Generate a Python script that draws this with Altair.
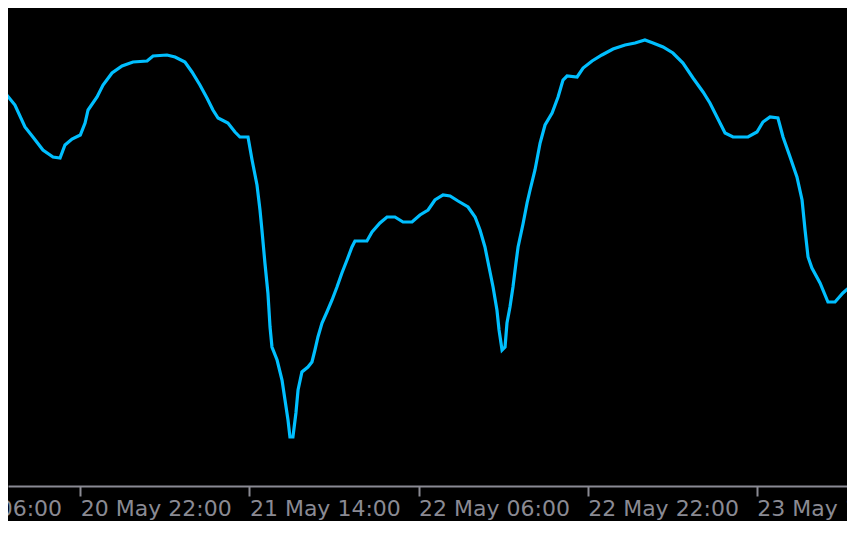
import altair as alt
import pandas as pd

# Timestamps (UTC) of the cyan line's points
times = [
    "2024-05-20T14:24", "2024-05-20T14:58", "2024-05-20T15:49", "2024-05-20T16:46", "2024-05-20T17:31",
    "2024-05-20T18:28", "2024-05-20T19:25", "2024-05-20T20:05", "2024-05-20T20:33", "2024-05-20T21:13",
    "2024-05-20T22:00", "2024-05-20T22:27", "2024-05-20T22:44", "2024-05-20T23:35", "2024-05-21T00:09",
    "2024-05-21T01:00", "2024-05-21T01:57", "2024-05-21T02:59", "2024-05-21T04:19", "2024-05-21T04:53",
    "2024-05-21T06:12", "2024-05-21T06:58", "2024-05-21T07:54", "2024-05-21T08:34", "2024-05-21T09:19",
    "2024-05-21T09:59", "2024-05-21T10:33", "2024-05-21T11:02", "2024-05-21T11:58", "2024-05-21T12:38",
    "2024-05-21T13:06", "2024-05-21T13:52", "2024-05-21T14:15", "2024-05-21T14:43", "2024-05-21T15:00",
    "2024-05-21T15:11", "2024-05-21T15:28", "2024-05-21T15:45", "2024-05-21T15:57", "2024-05-21T16:08",
    "2024-05-21T16:37", "2024-05-21T17:05", "2024-05-21T17:22", "2024-05-21T17:39", "2024-05-21T17:50",
    "2024-05-21T18:07", "2024-05-21T18:24", "2024-05-21T18:36", "2024-05-21T18:58", "2024-05-21T19:32",
    "2024-05-21T19:55", "2024-05-21T20:12", "2024-05-21T20:29", "2024-05-21T20:52", "2024-05-21T21:20",
    "2024-05-21T21:49", "2024-05-21T22:17", "2024-05-21T22:45", "2024-05-21T23:14", "2024-05-21T23:42",
    "2024-05-21T23:59", "2024-05-22T01:07", "2024-05-22T01:36", "2024-05-22T02:21", "2024-05-22T03:01",
    "2024-05-22T03:46", "2024-05-22T04:32", "2024-05-22T05:23", "2024-05-22T06:08", "2024-05-22T06:54",
    "2024-05-22T07:33", "2024-05-22T08:19", "2024-05-22T08:59", "2024-05-22T09:44", "2024-05-22T10:41",
    "2024-05-22T11:21", "2024-05-22T11:49", "2024-05-22T12:17", "2024-05-22T12:40", "2024-05-22T13:03",
    "2024-05-22T13:25", "2024-05-22T13:37", "2024-05-22T13:54", "2024-05-22T14:11", "2024-05-22T14:22",
    "2024-05-22T14:39", "2024-05-22T14:56", "2024-05-22T15:13", "2024-05-22T15:25", "2024-05-22T15:53",
    "2024-05-22T16:16", "2024-05-22T16:33", "2024-05-22T17:01", "2024-05-22T17:30", "2024-05-22T17:58",
    "2024-05-22T18:38", "2024-05-22T19:12", "2024-05-22T19:40", "2024-05-22T20:03", "2024-05-22T21:00",
    "2024-05-22T21:34", "2024-05-22T22:25", "2024-05-22T23:21", "2024-05-23T00:24", "2024-05-23T01:32",
    "2024-05-23T02:29", "2024-05-23T03:25", "2024-05-23T04:11", "2024-05-23T05:08", "2024-05-23T06:04",
    "2024-05-23T07:01", "2024-05-23T07:58", "2024-05-23T08:55", "2024-05-23T09:34", "2024-05-23T10:14",
    "2024-05-23T11:00", "2024-05-23T11:45", "2024-05-23T13:10", "2024-05-23T14:01", "2024-05-23T14:35",
    "2024-05-23T15:15", "2024-05-23T16:00", "2024-05-23T16:29", "2024-05-23T17:09", "2024-05-23T17:48",
    "2024-05-23T18:17", "2024-05-23T18:34", "2024-05-23T18:51", "2024-05-23T19:13", "2024-05-23T19:59",
    "2024-05-23T20:44", "2024-05-23T21:24", "2024-05-23T22:09", "2024-05-23T23:00", "2024-05-23T23:17",
]

# Indicator level (arbitrary units)
values = [
    386, 391, 380, 358, 348, 335, 328, 327, 340, 346,
    350, 362, 375, 388, 400, 412, 419, 423, 424, 429,
    430, 428, 423, 413, 400, 387, 375, 367, 362, 353,
    348, 348, 325, 300, 275, 255, 222, 192, 158, 138,
    125, 105, 85, 65, 48, 48, 72, 95, 113, 118,
    123, 135, 148, 162, 173, 185, 198, 212, 225, 238,
    244, 244, 253, 262, 268, 268, 263, 263, 270, 275,
    285, 290, 289, 284, 278, 268, 255, 238, 218, 198,
    175, 155, 135, 138, 162, 178, 198, 222, 238, 261,
    282, 295, 315, 342, 360, 372, 388, 405, 409, 408,
    417, 424, 430, 436, 440, 442, 445, 442, 438, 432,
    422, 407, 393, 382, 368, 352, 348, 348, 353, 363,
    368, 367, 348, 328, 308, 285, 255, 228, 217, 202,
    183, 183, 192, 200, 203,
]

# Axis tick times (every 16 hours) and the visible time window
tick_times = ["2024-05-20T22:00", "2024-05-21T14:00", "2024-05-22T06:00",
              "2024-05-22T22:00", "2024-05-23T14:00"]
offscreen_label_times = ["2024-05-20T06:00"]
offscreen_labels = ["20 May 06:00"]
window = ["2024-05-20T15:09:36", "2024-05-23T22:32:06"]
level_range = [0, 477]

def ms(s):
    return int(pd.Timestamp(s, tz="UTC").value // 10**6)

df = pd.DataFrame({"t": [ms(t) for t in times], "v": values})
lab = pd.DataFrame({"t": [ms(t) for t in offscreen_label_times], "label": offscreen_labels})

GREY = "#8a8a93"
FONT = "DejaVu Sans"
FS = 22

xscale = alt.Scale(type="utc", domain=[ms(w) for w in window], nice=False)

line = alt.Chart(df).mark_line(color="#00bfff", strokeWidth=3.2, clip=False).encode(
    x=alt.X("t:T", scale=xscale,
            axis=alt.Axis(values=[ms(t) for t in tick_times], title=None, grid=False,
                          labelExpr="utcFormat(datum.value, '%d %b %H:%M')",
                          labelAlign="left", labelBaseline="alphabetic",
                          labelFont=FONT, labelFontSize=FS, labelColor=GREY,
                          labelPadding=19, labelOverlap=False, labelBound=False,
                          labelFlush=False, tickSize=10, tickWidth=2, tickColor=GREY,
                          domainColor=GREY, domainWidth=2, offset=1)),
    y=alt.Y("v:Q", scale=alt.Scale(domain=level_range, nice=False, zero=False), axis=None),
)

text = alt.Chart(lab).mark_text(align="left", baseline="alphabetic", font=FONT,
                                fontSize=FS, color=GREY).encode(
    x=alt.X("t:T", scale=xscale),
    y=alt.value(508),
    text="label:N",
)

chart = alt.layer(line, text).properties(
    width=839, height=477,
    autosize=alt.AutoSizeParams(type="none"),
    padding={"left": 0, "top": 0, "right": 0, "bottom": 36},
    background="#000000",
).configure_view(stroke=None, fill="#000000")

chart.save("out.html", embed_options={"renderer": "svg", "actions": False})
